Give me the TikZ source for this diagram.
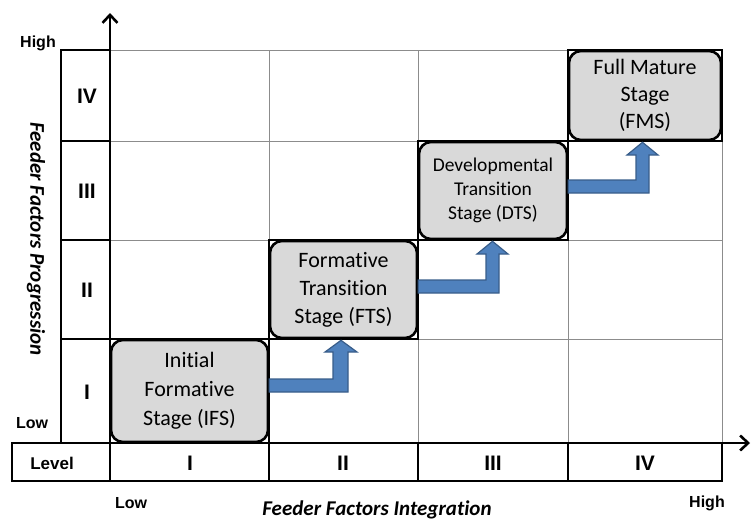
\documentclass[tikz,border=0pt]{standalone}
\usepackage{fontspec}
\setmainfont{Carlito}[Ligatures=NoCommon]
\newfontfamily\arialb{Liberation Sans}[BoldFont={* Bold}]
\usetikzlibrary{calc,arrows.meta}
\definecolor{boxgray}{HTML}{D9D9D9}
\definecolor{arrblue}{HTML}{4F81BD}
\definecolor{arrline}{HTML}{385D8A}
\definecolor{gridgray}{HTML}{8C8C8C}
\tikzset{
  px/.style={x=1pt,y=-1pt},
  gridline/.style={draw=gridgray,line width=0.8pt},
  thickframe/.style={draw=black,line width=2.8pt},
  stagebox/.style={draw=black,line width=2.6pt,fill=boxgray,rounded corners=12pt,inner sep=0pt,align=center,font=\fontsize{22}{29}\selectfont},
  cellframe/.style={draw=black,line width=1.6pt},
  lvl/.style={font=\arialb\bfseries\fontsize{21}{24}\selectfont},
  lowhigh/.style={font=\arialb\bfseries\fontsize{16}{18}\selectfont},
  axtitle/.style={font=\bfseries\itshape\fontsize{21}{24}\selectfont},
  bluearrow/.style={fill=arrblue,draw=arrline,line width=1.2pt},
  axisarrow/.style={draw=black,line width=2.6pt,-{Straight Barb[length=8pt,width=15pt,line width=2.6pt]}}
}
\begin{document}
\begin{tikzpicture}[px]
\useasboundingbox (0,0) rectangle (751,520);
% grid
\foreach \x in {269,418,568,722} \draw[gridline] (\x,50) -- (\x,443);
\foreach \y in {50,141,240,339} \draw[gridline] (110,\y) -- (722,\y);
% left column
\draw[thickframe] (61,443) -- (61,50) -- (110,50);
\foreach \y in {141,240,339} \draw[thickframe] (61,\y) -- (110,\y);
% level row
\draw[thickframe] (12,443) rectangle (722,481);
\foreach \x in {110,269,418,568} \draw[thickframe] (\x,443) -- (\x,481);
% axes
\coordinate (origin) at (110,443);
\coordinate (ytip) at (110,13);
\coordinate (xtip) at (750,443);
\draw[axisarrow] (origin) -- (ytip);
\draw[axisarrow] (origin) -- (xtip);
% labels
\node[lvl] (rIV) at (87,96) {IV};
\node[lvl] (rIII) at (87,191) {III};
\node[lvl] (rII) at (87,290) {II};
\node[lvl] (rI) at (87,392) {I};
\node[font=\arialb\bfseries\fontsize{17}{20}\selectfont] (lev) at (52,463) {Level};
\node[lvl] (cI) at (190,463) {I};
\node[lvl] (cII) at (343,463) {II};
\node[lvl] (cIII) at (493,463) {III};
\node[lvl] (cIV) at (645,463) {IV};
\node[lowhigh] (hiY) at (38,43) {High};
\node[lowhigh] (loY) at (32,423) {Low};
\node[lowhigh] (loX) at (131,503) {Low};
\node[lowhigh] (hiX) at (707,503) {High};
\node[axtitle,rotate=-90] (ttlY) at (36,239) {Feeder Factors Progression};
\node[axtitle] (ttlX) at (377,510) {Feeder Factors Integration};
% stage boxes
\foreach \a/\b/\c/\d in {110/339/269/443,269/240/418/339,418/141/568/240,568/50/722/141}
  \draw[cellframe] (\a,\b) rectangle (\c,\d);
\node[stagebox,minimum width=157pt,minimum height=102pt] (ifs) at (189.5,391) {Initial\\Formative\\Stage (IFS)};
\node[stagebox,minimum width=147pt,minimum height=97pt,font=\fontsize{22}{28}\selectfont] (fts) at (343.5,289.5) {Formative\\Transition\\Stage (FTS)};
\node[stagebox,minimum width=148pt,minimum height=97pt,font=\fontsize{19.5}{24}\selectfont] (dts) at (493,190.5) {Developmental\\Transition\\Stage (DTS)};
\node[stagebox,minimum width=152pt,minimum height=89pt,font=\fontsize{22}{27}\selectfont] (fms) at (645,95.5) {Full Mature\\Stage\\(FMS)};
% bent arrows
\draw[bluearrow] ($(ifs.east)+(0,-12)$) -- (333,379) -- (333,352) -- (325,352) -- ($(fts.south)+(-2.5,1)$) -- (357,352) -- (348,352) -- (348,392) -- ($(ifs.east)+(0,1)$) -- cycle;
\draw[bluearrow] ($(fts.east)+(0,-9.5)$) -- (486,280) -- (486,254) -- (477,254) -- ($(dts.south)+(-0.5,1)$) -- (508,254) -- (499,254) -- (499,293) -- ($(fts.east)+(0,3.5)$) -- cycle;
\draw[bluearrow] ($(dts.east)+(0,-10.5)$) -- (636,180) -- (636,155) -- (627,155) -- ($(fms.south)+(-2.5,1)$) -- (658,155) -- (649,155) -- (649,193) -- ($(dts.east)+(0,2.5)$) -- cycle;
\end{tikzpicture}
\end{document}
